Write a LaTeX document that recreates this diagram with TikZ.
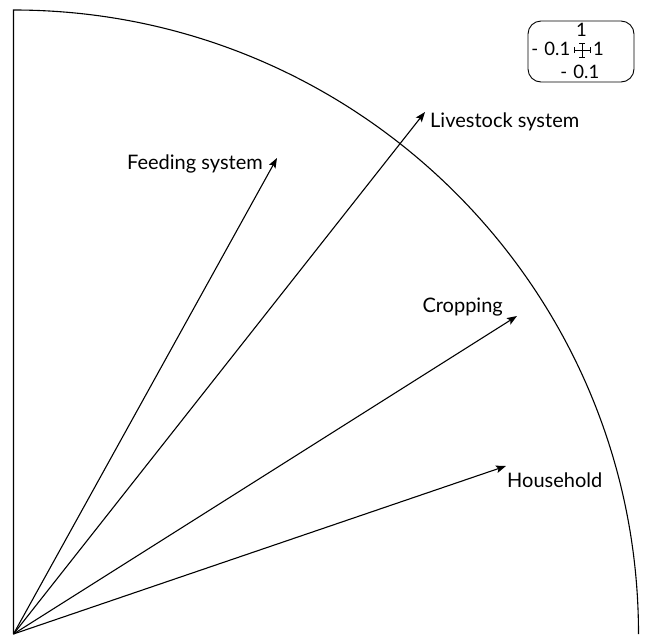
\documentclass[tikz,border=0pt]{standalone}
\usepackage{fontspec}
\setmainfont{Lato}
\usetikzlibrary{arrows.meta}
\begin{document}
\begin{tikzpicture}[x=1pt,y=-1pt,
  vec/.style={line width=1.1pt,-{Stealth[length=10pt,width=7.5pt,inset=2pt]}},
  lbl/.style={inner sep=0pt,font=\fontsize{20}{23}\selectfont},
  leg/.style={inner sep=0pt,font=\fontsize{18.5}{22}\selectfont}]
\useasboundingbox (0,0) rectangle (646,635);
\coordinate (o) at (13.5,634);
\coordinate (tf) at (277,158);
\coordinate (tl) at (425,112);
\coordinate (tc) at (517,316);
\coordinate (th) at (506,466);
% axes / quarter circle
\draw[line width=1.1pt] (638.5,634) arc[start angle=0,end angle=90,x radius=625,y radius=-624] -- (o);
% vectors
\draw[vec] (o) -- (tf);
\draw[vec] (o) -- (tl);
\draw[vec] (o) -- (tc);
\draw[vec] (o) -- (th);
% labels
\node[lbl,anchor=base east] (lf) at (263,169) {Feeding system};
\node[lbl,anchor=base west] (ll) at (430,127) {Livestock system};
\node[lbl,anchor=base east] (lc) at (503,312) {Cropping};
\node[lbl,anchor=base west] (lh) at (507,487) {Household};
% legend
\draw[line width=0.9pt,rounded corners=13pt] (528,21) rectangle (634,82);
\node[leg,anchor=base] (l1) at (581.5,36) {1};
\node[leg,anchor=base east] (l2) at (570.5,55.7) {-\,\,0.1};
\node[leg,anchor=base west] (l3) at (593,55.7) {1};
\node[leg,anchor=base east] (l4) at (599.5,78) {-\,\,0.1};
\coordinate (cc) at (582,50);
\draw[line width=0.6pt] ([xshift=-8pt]cc) -- ([xshift=8pt]cc)
  ([yshift=-7pt]cc) -- ([yshift=7pt]cc)
  ([xshift=-8pt,yshift=-3pt]cc) -- ([xshift=-8pt,yshift=3pt]cc)
  ([xshift=8pt,yshift=-3pt]cc) -- ([xshift=8pt,yshift=3pt]cc)
  ([xshift=-3pt,yshift=-7pt]cc) -- ([xshift=3pt,yshift=-7pt]cc)
  ([xshift=-3pt,yshift=7pt]cc) -- ([xshift=3pt,yshift=7pt]cc);
\end{tikzpicture}
\end{document}
